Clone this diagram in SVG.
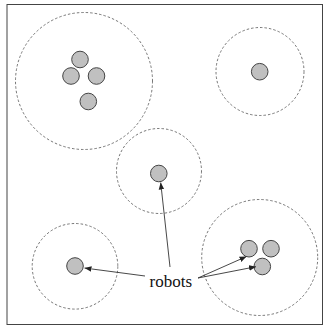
<svg xmlns="http://www.w3.org/2000/svg" width="325" height="329" viewBox="0 0 325 329">
<style>
.zone{fill:none;stroke:#555;stroke-width:0.8;stroke-dasharray:2.5,2}
.robot{fill:#c0c0c0;stroke:#444;stroke-width:1}
.conn{stroke:#333;stroke-width:0.9;fill:none;marker-end:url(#ah)}
text{font-family:"Liberation Serif","Times New Roman",serif;font-size:17px;fill:#111}
</style>
<defs>
<marker id="ah" viewBox="0 0 10 10" refX="10" refY="5" markerWidth="7" markerHeight="7" markerUnits="userSpaceOnUse" orient="auto">
<path d="M0,1 L10,5 L0,9 Z" fill="#222"/>
</marker>
</defs>
<rect x="7" y="4.5" width="315.5" height="320" fill="#fff" stroke="#444" stroke-width="1"/>
<g id="zone1">
<circle class="zone" cx="84" cy="81" r="68.5"/>
<circle class="robot" cx="80" cy="59.5" r="8.3"/>
<circle class="robot" cx="71" cy="76" r="8.3"/>
<circle class="robot" cx="96.5" cy="76" r="8.3"/>
<circle class="robot" cx="88.3" cy="101.5" r="8.3"/>
</g>
<g id="zone2">
<circle class="zone" cx="260" cy="71.5" r="44"/>
<circle class="robot" cx="259.7" cy="71.7" r="8.3"/>
</g>
<g id="zone3">
<circle class="zone" cx="159" cy="171" r="42.5"/>
<circle class="robot" cx="158.8" cy="173.5" r="8.3"/>
</g>
<g id="zone4">
<circle class="zone" cx="75" cy="266.3" r="42.8"/>
<circle class="robot" cx="75" cy="266" r="8.3"/>
</g>
<g id="zone5">
<circle class="zone" cx="259.7" cy="257.5" r="58"/>
<circle class="robot" cx="249" cy="248.7" r="8.3"/>
<circle class="robot" cx="271" cy="248.7" r="8.3"/>
<circle class="robot" cx="262.3" cy="266.5" r="8.3"/>
</g>
<g id="label">
<text x="149.5" y="286.5">robots</text>
</g>
<g id="connectors">
<line class="conn" x1="170" y1="267" x2="160.7" y2="182.5"/>
<line class="conn" x1="145" y1="276" x2="84.5" y2="268"/>
<line class="conn" x1="198" y1="278" x2="246.5" y2="256.5"/>
<line class="conn" x1="198" y1="278" x2="256" y2="266.7"/>
</g>
</svg>
